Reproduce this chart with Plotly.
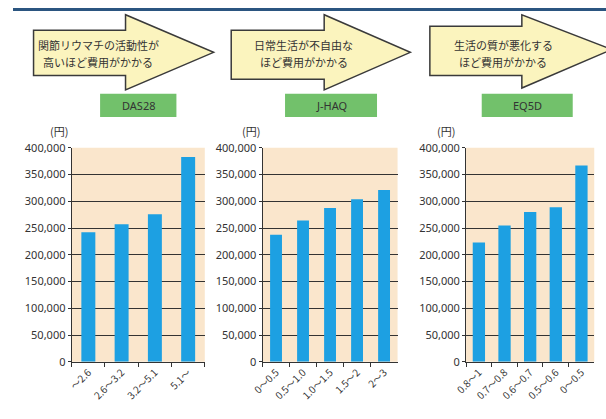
import plotly.graph_objects as go

W, H = 606, 419

das_cats = ["〜2.6", "2.6〜3.2", "3.2〜5.1", "5.1〜"]
das_vals = [242000, 257000, 276000, 383000]
haq_cats = ["0〜0.5", "0.5〜1.0", "1.0〜1.5", "1.5〜2", "2〜3"]
haq_vals = [237500, 264000, 287500, 304000, 321000]
eq_cats = ["0.8〜1", "0.7〜0.8", "0.6〜0.7", "0.5〜0.6", "0〜0.5"]
eq_vals = [223000, 255000, 280000, 289000, 367000]

index_names = ["DAS28", "J-HAQ", "EQ5D"]
arrow_lines = [("関節リウマチの活動性が", "高いほど費用がかかる"),
               ("日常生活が不自由な", "ほど費用がかかる"),
               ("生活の質が悪化する", "ほど費用がかかる")]
yticks = [0, 50000, 100000, 150000, 200000, 250000, 300000, 350000, 400000]

BAR = "#1DA0E2"
BG = "#FAE6CC"
LINE = "#333333"

def px(x):
    return x / W

def py(y):
    return 1 - y / H

fig = go.Figure()

panels = [
    (das_cats, das_vals, (60, 196), 0.42),
    (haq_cats, haq_vals, (255, 393), 0.44),
    (eq_cats, eq_vals, (463, 594), 0.48),
]
ydom = [py(367), py(145)]

for i, (cats, vals, (x0, x1), bw) in enumerate(panels):
    n = "" if i == 0 else str(i + 1)
    fig.add_trace(go.Bar(x=cats, y=vals, marker_color=BAR, marker_line_width=0,
                         width=bw, xaxis="x" + n, yaxis="y" + n, showlegend=False))
    fig.layout["xaxis" + n] = dict(domain=[px(x0), px(x1)], anchor="y" + n,
                                   tickangle=-45, tickson="boundaries", ticks="outside",
                                   ticklen=4, tickcolor=LINE, showline=True, linecolor=LINE,
                                   linewidth=1, showgrid=False,
                                   tickfont=dict(family="Noto Sans CJK JP", size=10, color="#333"))
    fig.layout["yaxis" + n] = dict(domain=ydom, anchor="x" + n, range=[0, 400000],
                                   tickvals=yticks, tickformat=",d", showgrid=True,
                                   gridcolor=LINE, gridwidth=1, showline=True, linecolor=LINE,
                                   ticks="outside", ticklen=3, tickcolor=LINE, zeroline=False,
                                   tickfont=dict(family="Noto Sans", size=11, color="#333"))
    fig.add_shape(type="rect", xref="paper", yref="paper", x0=px(x0), x1=px(x1),
                  y0=ydom[0], y1=ydom[1], fillcolor=BG, line_width=0, layer="below")

fig.add_shape(type="rect", xref="paper", yref="paper", x0=0, x1=1, y0=py(3), y1=1,
              fillcolor="#2B5580", line_width=0)

arrows = [
    (21, 23, 70, 115, 7, 85, 205, 46),
    (223, 23, 74, 318, 7, 85, 406, 46),
    (426, 19, 70, 520, 7, 83, 612, 43),
]
for (bl, bt, bb, hx, ht, hb, tx, ty) in arrows:
    pts = [(bl, bt), (hx, bt), (hx, ht), (tx, ty), (hx, hb), (hx, bb), (bl, bb)]
    path = "M " + " L ".join(f"{px(a):.5f},{py(b):.5f}" for a, b in pts) + " Z"
    fig.add_shape(type="path", xref="paper", yref="paper", path=path,
                  fillcolor="#FBF4BE", line=dict(color="#3A3A3A", width=1.5))

text_centers = [87, 297, 501]
for (l1, l2), cx in zip(arrow_lines, text_centers):
    for t, yy in ((l1, 38.5), (l2, 55.5)):
        fig.add_annotation(x=px(cx), y=py(yy), xref="paper", yref="paper", text=t,
                           showarrow=False, xanchor="center", yanchor="middle",
                           font=dict(family="Noto Sans CJK JP", size=11, color="#333"))

boxes = [(89, 167), (278, 372), (479, 572)]
for name, (b0, b1) in zip(index_names, boxes):
    fig.add_shape(type="rect", xref="paper", yref="paper", x0=px(b0), x1=px(b1),
                  y0=py(113), y1=py(89), fillcolor="#72C16B", line_width=0)
    fig.add_annotation(x=px((b0 + b1) / 2), y=py(101), xref="paper", yref="paper",
                       text=name, showarrow=False, xanchor="center", yanchor="middle",
                       font=dict(family="Noto Sans", size=11, color="#333"))

for cx in [47, 243, 442]:
    fig.add_annotation(x=px(cx), y=py(128), xref="paper", yref="paper", text="(円)",
                       showarrow=False, xanchor="center", yanchor="middle",
                       font=dict(family="Noto Sans CJK JP", size=11, color="#333"))

fig.update_layout(width=W, height=H, margin=dict(l=0, r=0, t=0, b=0),
                  paper_bgcolor="white", plot_bgcolor="rgba(0,0,0,0)", bargap=0.5)

fig.write_html("out.html")
